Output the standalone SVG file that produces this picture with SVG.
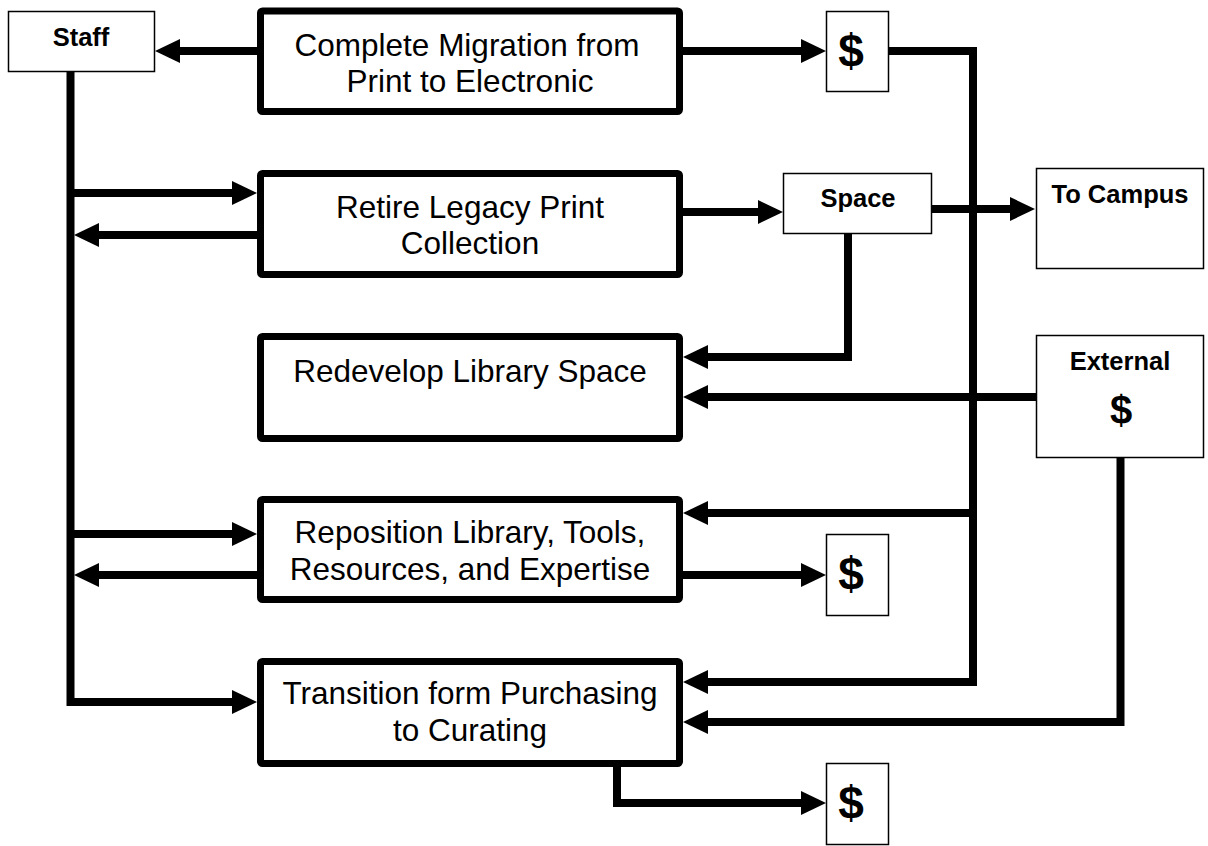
<svg xmlns="http://www.w3.org/2000/svg" width="1208" height="846" viewBox="0 0 1208 846">
<style>
.thick{fill:#fff;stroke:#000;stroke-width:7}
.thin{fill:#fff;stroke:#000;stroke-width:1.5}
.main{font-family:"Liberation Sans",Arial,sans-serif;font-size:31.5px;fill:#000;text-anchor:middle}
.lab{font-family:"Liberation Sans",Arial,sans-serif;font-size:25.5px;font-weight:bold;fill:#000;text-anchor:middle}
.dol{font-family:"Liberation Sans",Arial,sans-serif;font-size:46px;font-weight:bold;fill:#000;text-anchor:middle}
.conn path{fill:none;stroke:#000;stroke-width:8;stroke-linejoin:miter}
</style>
<defs>
<marker id="ah" markerUnits="userSpaceOnUse" markerWidth="25" markerHeight="24" viewBox="0 0 25 24" refX="0" refY="12" orient="auto">
<path d="M0,0 L25,12 L0,24 z" fill="#000"/>
</marker>
</defs>
<rect width="1208" height="846" fill="#fff"/>
<g id="connectors" class="conn">
<path d="M257,51 H180" marker-end="url(#ah)"/>
<path d="M683,51 H801" marker-end="url(#ah)"/>
<path d="M889,51 H973 V682 H708" marker-end="url(#ah)"/>
<path d="M973,513 H708" marker-end="url(#ah)"/>
<path d="M70.5,72 V702 H232" marker-end="url(#ah)"/>
<path d="M70.5,193 H232" marker-end="url(#ah)"/>
<path d="M257,235 H99" marker-end="url(#ah)"/>
<path d="M70.5,534 H232" marker-end="url(#ah)"/>
<path d="M257,575 H99" marker-end="url(#ah)"/>
<path d="M683,212 H758" marker-end="url(#ah)"/>
<path d="M932,209 H1010" marker-end="url(#ah)"/>
<path d="M848,234 V357 H708" marker-end="url(#ah)"/>
<path d="M1036,397 H708" marker-end="url(#ah)"/>
<path d="M1120.5,458 V722 H708" marker-end="url(#ah)"/>
<path d="M683,575 H801" marker-end="url(#ah)"/>
<path d="M617,767 V803 H801" marker-end="url(#ah)"/>
</g>
<g id="staff">
<rect class="thin" x="8.5" y="11.5" width="146" height="60"/>
<text class="lab" x="81" y="46">Staff</text>
</g>
<g id="migration">
<rect class="thick" x="260.5" y="11" width="419" height="100.5" rx="2"/>
<text class="main" x="467" y="56">Complete Migration from</text>
<text class="main" x="470" y="92">Print to Electronic</text>
</g>
<g id="dollar1">
<rect class="thin" x="826.5" y="11.5" width="62" height="80"/>
<text class="dol" x="851" y="67">$</text>
</g>
<g id="retire">
<rect class="thick" x="260.5" y="173.5" width="419" height="101" rx="2"/>
<text class="main" x="470" y="218">Retire Legacy Print</text>
<text class="main" x="470" y="254">Collection</text>
</g>
<g id="space">
<rect class="thin" x="783.5" y="173.5" width="148" height="60"/>
<text class="lab" x="858" y="207">Space</text>
</g>
<g id="campus">
<rect class="thin" x="1036.5" y="168.5" width="167" height="100"/>
<text class="lab" x="1120" y="203">To Campus</text>
</g>
<g id="redevelop">
<rect class="thick" x="260.5" y="336.5" width="419" height="102" rx="2"/>
<text class="main" x="470" y="382">Redevelop Library Space</text>
</g>
<g id="external">
<rect class="thin" x="1036.5" y="335.5" width="167" height="122"/>
<text class="lab" x="1120" y="370">External</text>
<text class="dol" x="1121" y="424" style="font-size:40px">$</text>
</g>
<g id="reposition">
<rect class="thick" x="260.5" y="499.5" width="419" height="100" rx="2"/>
<text class="main" x="470" y="543">Reposition Library, Tools,</text>
<text class="main" x="470" y="580">Resources, and Expertise</text>
</g>
<g id="dollar2">
<rect class="thin" x="826.5" y="534.5" width="62" height="81"/>
<text class="dol" x="851" y="590">$</text>
</g>
<g id="transition">
<rect class="thick" x="260.5" y="661.5" width="419" height="102" rx="2"/>
<text class="main" x="470" y="704">Transition form Purchasing</text>
<text class="main" x="470" y="741">to Curating</text>
</g>
<g id="dollar3">
<rect class="thin" x="826.5" y="763.5" width="62" height="81"/>
<text class="dol" x="851" y="819">$</text>
</g>
</svg>
